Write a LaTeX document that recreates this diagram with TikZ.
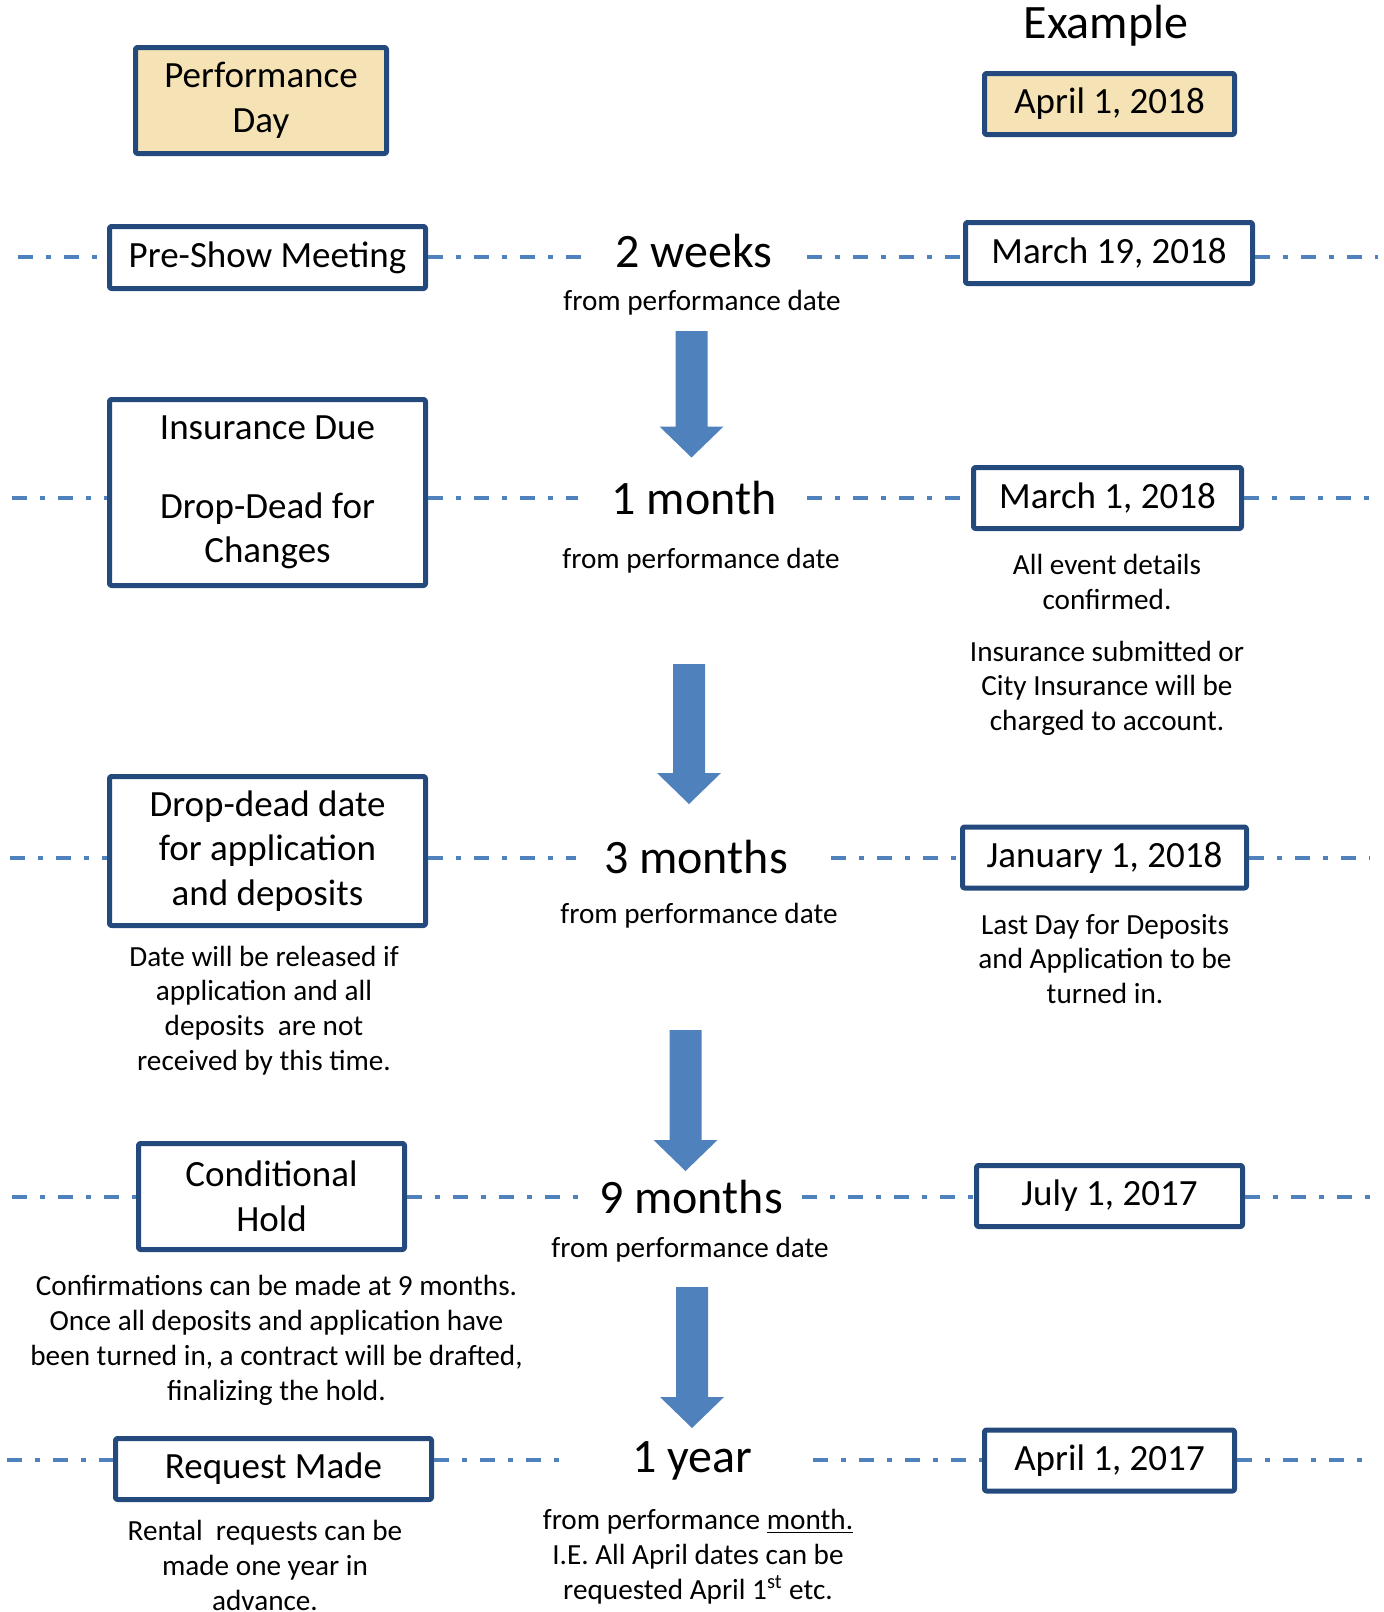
\documentclass[tikz,border=0pt]{standalone}
\usepackage{fontspec}
\setmainfont{Carlito}
\definecolor{boxblue}{RGB}{36,73,124}
\definecolor{lineblue}{RGB}{79,129,189}
\definecolor{wheatfill}{RGB}{245,227,182}
\begin{document}
\begin{tikzpicture}[x=0.5pt,y=-0.5pt,line join=round,
  box/.style={draw=boxblue,line width=2.5pt,rounded corners=1pt,fill=white,align=center,inner sep=0pt,font=\fontsize{18.5}{22.3}\selectfont},
  datebox/.style={box,minimum height=30.5pt},
  big/.style={font=\fontsize{24}{28}\selectfont},
  note/.style={align=center,inner sep=0pt,font=\fontsize{14.6}{17.4}\selectfont},
  dotdash/.style={draw=lineblue,line width=2pt,dash pattern=on 7.5pt off 6.5pt on 2.5pt off 6.5pt}]
\useasboundingbox (0,0) rectangle (1384,1612);
% header
\node[box,fill=wheatfill,minimum width=125.5pt,minimum height=53pt] (perf) at (261,100.5) {Performance\\Day};
\node[font=\fontsize{24}{28}\selectfont] (example) at (1106,26) {Example};
\node[datebox,fill=wheatfill,minimum width=125pt] (apr18) at (1109.5,104) {April 1, 2018};
% left column
\node[box,minimum width=158pt,minimum height=31pt] (L1) at (267.5,257.5) {Pre-Show Meeting};
\node[box,minimum width=158pt,minimum height=93pt] (L2) at (267.5,492.5) {Insurance Due\\[17pt]Drop-Dead for\\Changes};
\node[box,minimum width=158pt,minimum height=74.5pt] (L3) at (267.5,851) {Drop-dead date\\for application\\and deposits};
\node[box,minimum width=133pt,minimum height=53pt] (L4) at (271.5,1196.5) {Conditional\\Hold};
\node[box,minimum width=158pt,minimum height=30.5pt] (L5) at (273.5,1469) {Request Made};
% right column
\node[datebox,minimum width=143.5pt] (R1) at (1109,253) {March 19, 2018};
\node[datebox,minimum width=134pt] (R2) at (1107.5,498) {March 1, 2018};
\node[datebox,minimum width=142pt] (R3) at (1104.5,857.5) {January 1, 2018};
\node[datebox,minimum width=133pt] (R4) at (1109.5,1196) {July 1, 2017};
\node[datebox,minimum width=125pt] (R5) at (1109.5,1460.5) {April 1, 2017};
% middle
\node[big] (m1) at (694,251) {2 weeks};
\node[big] (m2) at (694,498) {1 month};
\node[big] (m3) at (696,857.5) {3 months};
\node[big] (m4) at (691,1197) {9 months};
\node[big] (m5) at (692,1461) {1 year};
\path
(702,303) node[note] (s1) {from performance date}
(701,561) node[note] (s2) {from performance date}
(699,916) node[note] (s3) {from performance date}
(690,1250) node[note] (s4) {from performance date}
(698,1556.5) node[note] (s5) {from performance \underline{month.}\\I.E. All April dates can be\\requested April 1\textsuperscript{st} etc.}
;
% notes
\path
(1107,645) node[note] (n2) {All event details\\confirmed.\\[8.5pt]Insurance submitted or\\City Insurance will be\\charged to account.}
(264,1010.5) node[note] (n3) {Date will be released if\\application and all\\deposits~ are not\\received by this time.}
(1105,959) node[note] (n3r) {Last Day for Deposits\\and Application to be\\turned in.}
(276.5,1340.5) node[note] (n4) {Confirmations can be made at 9 months.\\Once all deposits and application have\\been turned in, a contract will be drafted,\\finalizing the hold.}
(265,1565.5) node[note] (n5) {Rental~ requests can be\\made one year in\\advance.}
;
% timeline rows
\foreach \i/\y/\a/\b/\c/\d in {1/257/18/582/807/1378, 2/498/12/578/807/1373, 3/857.5/10/576/831/1370, 4/1197/12/578/802/1373, 5/1460/7/572/813/1368}{
  \coordinate (la\i) at (\a,\y);
  \coordinate (ga\i) at (\b,\y);
  \coordinate (gb\i) at (\c,\y);
  \coordinate (ra\i) at (\d,\y);
  \draw[dotdash] (la\i) -- (la\i -| L\i.west) (L\i.east |- la\i) -- (ga\i)
    (gb\i) -- (gb\i -| R\i.west) (R\i.east |- la\i) -- (ra\i);
}
% block arrows
\foreach \x/\t/\e in {691.5/331/457.5, 689/664/804, 685.5/1030/1171, 692/1287/1428}
  \fill[lineblue] ({\x-16},\t) -- ({\x+16},\t) -- ({\x+16},\e-31) -- ({\x+32},\e-31) -- (\x,\e) -- ({\x-32},\e-31) -- ({\x-16},\e-31) -- cycle;
\end{tikzpicture}
\end{document}
